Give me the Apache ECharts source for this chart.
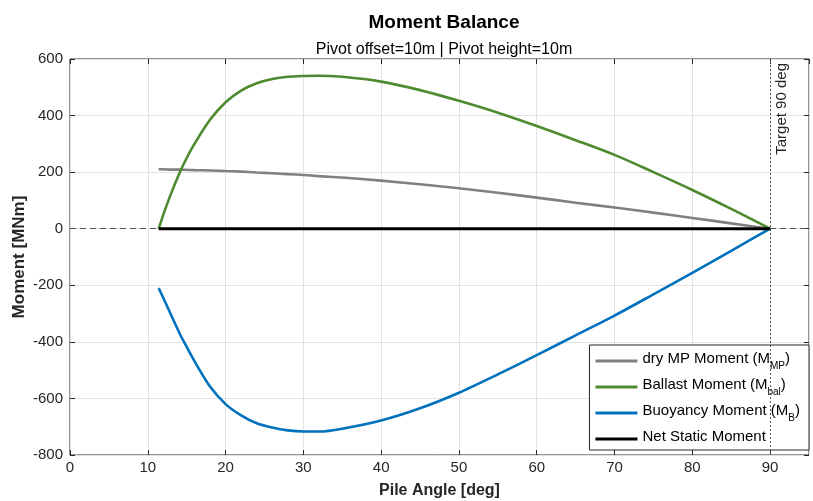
<!DOCTYPE html>
<html>
<head>
<meta charset="utf-8">
<script src="https://cdn.jsdelivr.net/npm/echarts@6/dist/echarts.min.js"></script>
<style>html,body{margin:0;padding:0;background:#fff}#c{width:813px;height:501px}</style>
</head>
<body>
<div id="c"></div>
<script>
const angles = [11.4, 12, 13, 14, 15, 16, 18, 20, 22, 24, 26, 28, 30, 32, 35, 40, 45, 50, 55, 60, 65, 70, 75, 80, 85, 90];
const dryMP  = [210, 210, 209, 209, 208, 207, 206, 204, 202, 199, 196, 193, 190, 186, 181, 170, 157, 143, 127, 110, 92, 75, 57, 38, 19, 0];
const ballast = [0, 50, 125, 192, 250, 300, 385, 447, 488, 514, 529, 537, 540, 541, 537, 520, 490, 452, 410, 363, 313, 261, 200, 137, 70, 0];
const buoyancy = [-210, -245, -305, -365, -418, -468, -558, -620, -660, -688, -703, -713, -717, -717, -707, -678, -635, -580, -515, -447, -377, -307, -232, -156, -78, 0];
const netStatic = [0, 0, 0, 0, 0, 0, 0, 0, 0, 0, 0, 0, 0, 0, 0, 0, 0, 0, 0, 0, 0, 0, 0, 0, 0, 0];
const xTicks = { min: 0, max: 95, interval: 10 };
const yTicks = { min: -800, max: 600, interval: 200 };
const targetAngle = 90;
const names = ['dry MP Moment (MMP)', 'Ballast Moment (Mbal)', 'Buoyancy Moment (MB)', 'Net Static Moment'];
const legendRich = {
  'dry MP Moment (MMP)': '{n|dry MP Moment (M}{s|MP}{n|)}',
  'Ballast Moment (Mbal)': '{n|Ballast Moment (M}{s|bal}{n|)}',
  'Buoyancy Moment (MB)': '{n|Buoyancy Moment (M}{s|B}{n|)}',
  'Net Static Moment': '{n|Net Static Moment}'
};
const colors = ['#808080', '#4e8a30', '#0072bd', '#000000'];
const FONT = 'Liberation Sans, Arial, sans-serif';

function pairs(ys) { return angles.map((a, i) => [a, ys[i]]); }

const chart = echarts.init(document.getElementById('c'));
const axisCommon = {
  axisLine: { show: false, onZero: false },
  axisTick: { show: true, inside: true, length: 5, lineStyle: { color: '#262626' } },
  splitLine: { show: true, lineStyle: { color: '#e3e3e3', width: 1 } },
  axisLabel: { color: '#262626', fontSize: 15, fontFamily: FONT }
};
const allSeries = [dryMP, ballast, buoyancy, netStatic].map((d, i) => ({
  name: names[i],
  type: 'line',
  data: pairs(d),
  symbol: 'none',
  smooth: 0.3,
  lineStyle: { color: colors[i], width: i === 3 ? 3 : 2.6 },
  itemStyle: { color: colors[i] },
  z: 3 + i
}));
allSeries.unshift({
  name: 'ref',
  type: 'line',
  data: [],
  silent: true,
  markLine: {
    silent: true,
    symbol: 'none',
    animation: false,
    data: [
      { yAxis: 0, lineStyle: { type: [6, 4], color: '#555', width: 1 }, label: { show: false } },
      { xAxis: targetAngle, lineStyle: { type: [2, 2], color: '#555', width: 1 },
        label: { show: true, formatter: 'Target 90 deg', position: 'insideEndBottom', color: '#262626', fontSize: 15, fontFamily: FONT, distance: 4 } }
    ]
  },
  z: 2
});

chart.setOption({
  animation: false,
  backgroundColor: '#fff',
  title: [
    { text: 'Moment Balance', left: 439, top: 8, textAlign: 'center',
      textStyle: { fontSize: 19, fontWeight: 'bold', color: '#000', fontFamily: FONT } },
    { text: 'Pivot offset=10m | Pivot height=10m', left: 439, top: 37, textAlign: 'center',
      textStyle: { fontSize: 16, fontWeight: 'normal', color: '#000', fontFamily: FONT } }
  ],
  grid: { left: 70, right: 4, top: 59, bottom: 46, show: true, borderColor: '#262626', borderWidth: 1, backgroundColor: 'transparent', outerBoundsMode: 'none', containLabel: false },
  xAxis: [
    Object.assign({}, axisCommon, {
      type: 'value', min: xTicks.min, max: xTicks.max, interval: xTicks.interval,
      name: 'Pile Angle [deg]', nameLocation: 'middle', nameGap: 28, nameMoveOverlap: false,
      nameTextStyle: { fontSize: 16, fontWeight: 'bold', color: '#262626', fontFamily: FONT },
      axisLabel: Object.assign({}, axisCommon.axisLabel, { margin: 5, showMaxLabel: false })
    }),
    Object.assign({}, axisCommon, {
      type: 'value', position: 'top', min: xTicks.min, max: xTicks.max, interval: xTicks.interval,
      axisLabel: { show: false }, splitLine: { show: false }
    })
  ],
  yAxis: [
    Object.assign({}, axisCommon, {
      type: 'value', min: yTicks.min, max: yTicks.max, interval: yTicks.interval,
      name: 'Moment [MNm]', nameLocation: 'middle', nameGap: 42, nameMoveOverlap: false,
      nameTextStyle: { fontSize: 17, fontWeight: 'bold', color: '#262626', fontFamily: FONT },
      axisLabel: Object.assign({}, axisCommon.axisLabel, { margin: 7 })
    }),
    Object.assign({}, axisCommon, {
      type: 'value', position: 'right', min: yTicks.min, max: yTicks.max, interval: yTicks.interval,
      axisLabel: { show: false }, splitLine: { show: false }
    })
  ],
  legend: {
    data: names,
    orient: 'vertical',
    right: 4,
    bottom: 51,
    backgroundColor: '#fff',
    borderColor: '#262626',
    borderWidth: 1,
    borderRadius: 0,
    padding: [6, 9, 6, 6],
    itemGap: 6,
    itemWidth: 42,
    itemHeight: 14,
    icon: 'path://M0,6 L42,6 L42,9 L0,9 Z',
    formatter: n => legendRich[n],
    textStyle: {
      color: '#000', fontFamily: FONT, fontSize: 15,
      rich: {
        n: { fontSize: 15, fontFamily: FONT, color: '#000', lineHeight: 20, verticalAlign: 'top' },
        s: { fontSize: 10, fontFamily: FONT, color: '#000', lineHeight: 20, verticalAlign: 'bottom', padding: [9, 0, 0, 0] }
      }
    }
  },
  series: allSeries
});
</script>
</body>
</html>
